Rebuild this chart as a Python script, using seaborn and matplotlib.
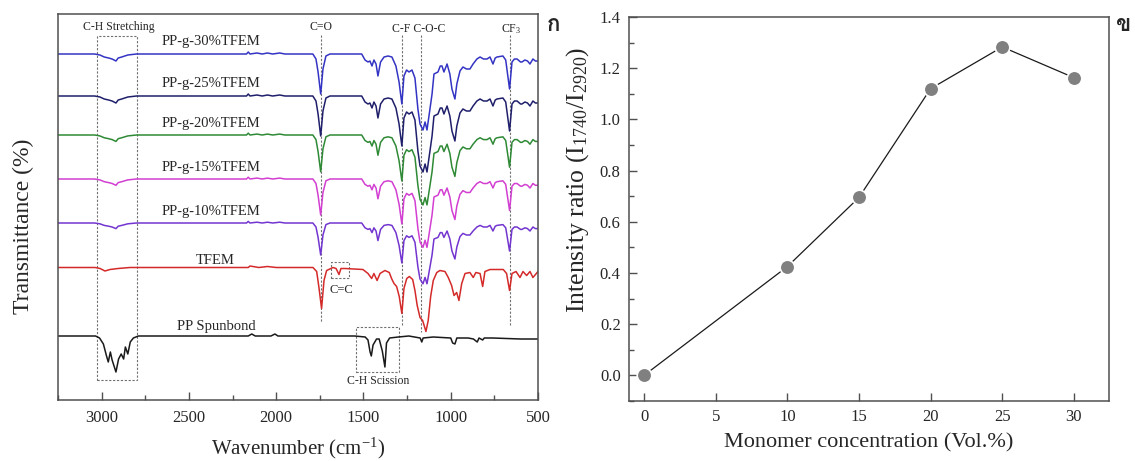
import numpy as np
import pandas as pd
import matplotlib
matplotlib.use("Agg")
import matplotlib.pyplot as plt
import seaborn as sns
from matplotlib.patches import Rectangle
from matplotlib.ticker import MultipleLocator, FormatStrFormatter
from matplotlib import font_manager

# ---------------- data ----------------
graft_labels = ["PP-g-30%TFEM", "PP-g-25%TFEM", "PP-g-20%TFEM", "PP-g-15%TFEM", "PP-g-10%TFEM"]
graft_colors = ["#3434c4", "#1f1f6b", "#2f8a36", "#d23fd2", "#7335d0"]
graft_baseline = [346, 304, 265, 221, 177]
graft_scale = [1.0, 1.0, 0.92, 0.9, 0.8]

# shared grafted-film profile: wavenumber and depth below baseline (a.u.)
graft_wn = [3250, 3040, 3010, 2985, 2960, 2940, 2918, 2905, 2885, 2850, 2800,
            2170, 2160, 2150, 2110, 2080, 2050, 2020, 1980, 1950,
            1790, 1772, 1760, 1745, 1732, 1715, 1692,
            1510, 1491, 1474, 1463, 1451, 1440, 1428, 1417, 1402, 1382, 1359, 1337,
            1314, 1296, 1280, 1268, 1253, 1239, 1222, 1205, 1188, 1176, 1159, 1147,
            1136, 1119, 1107, 1096, 1073, 1060, 1050, 1039, 1021, 1005, 993, 976,
            965, 947, 930, 910, 890, 872, 850, 832, 812, 792, 775, 758, 745, 735,
            701, 685, 663, 649, 635, 620, 600, 592, 575, 560, 546, 529, 515, 500]
graft_depth = [0, 0, 1, 3, 4, 5, 7, 4, 3, 1, 0,
               0, -2, 0, -1, 0, -1, 0, -1, 0,
               0, 5, 18, 40, 15, 2, 0,
               0, 6, 8, 7, 12, 6, 10, 22, 8, 3, 2, 3,
               12, 28, 50, 22, 16, 18, 16, 24, 55, 70, 76, 68,
               76, 55, 40, 20, 18, 12, 12, 18, 10, 20, 35, 45,
               30, 17, 13, 15, 15, 10, 5, 3, 5, 5, 3, 10, 4, 3,
               2, 6, 35, 8, 5, 5, 8, 8, 6, 7, 10, 5, 7, 7]

tfem_label = "TFEM"
tfem_color = "#d42a2a"
tfem_baseline = 132.5
tfem_wn = [3250, 3038, 3009, 2981, 2952, 2906, 2838,
           2160, 2150, 2100, 2050, 2000, 1960,
           1789, 1768, 1755, 1740, 1726, 1711, 1675, 1657, 1640, 1629, 1606,
           1503, 1474, 1453, 1440, 1422, 1405, 1377, 1352, 1339, 1325, 1310, 1295,
           1280, 1268, 1252, 1237, 1218, 1205, 1192, 1176, 1161, 1142, 1129, 1115,
           1100, 1080, 1062, 1033, 1014, 995, 981, 966, 953, 937, 918, 890, 871,
           856, 832, 817, 804, 775, 699, 680, 663, 649, 626, 603, 586, 565, 546,
           529, 500]
tfem_depth = [0, 0, 1, 3.5, 2, 1, 0,
              0, -1.5, 0, -1, 0, 0,
              0, 4, 20, 41, 13, 3, 0, 1, 7, 1, 1,
              2, 6, 11, 6, 13, 6, 3, 5, 11, 16, 19, 29,
              46, 21, 11, 9, 12, 23, 38, 50, 53, 64, 53, 29,
              13, 5, 3, 4, 10, 18, 28, 25, 33, 16, 6, 5, 10,
              5, 6, 19, 4, 2, 2, 6, 23, 6, 4, 10, 4, 8, 4,
              10, 4]

pp_label = "PP Spunbond"
pp_color = "#1a1a1a"
pp_baseline = 64
pp_wn = [3250, 3035, 3012, 2990, 2972, 2962, 2950, 2940, 2918, 2903, 2888, 2874,
         2864, 2850, 2836, 2818, 2790,
         2160, 2140, 2120, 2030, 2007, 1990,
         1550, 1490, 1474, 1462, 1455, 1445, 1425, 1410, 1392, 1377, 1368, 1350,
         1300, 1240, 1175, 1166, 1158, 1100, 1000, 989, 976, 965, 900, 870, 848,
         838, 817, 808, 760, 600, 500]
pp_depth = [0, 0, 2, 8, 20, 26, 16, 24, 36, 23, 18, 23,
            11, 18, 6, 2, 0,
            0, -2, 0, 0, -2, 0,
            0, 1, 4, 16, 20, 9, 3, 3, 15, 31, 7, 2,
            1, 0, 2, 6, 2, 1, 2, 7, 8, 2, 2, 3, 6,
            2, 4, 2, 2, 3, 3]

band_names = ["C=O", "C-F", "C-O-C", "CF3"]
band_wn = [1745, 1280, 1168, 663]

conc = [0, 10, 15, 20, 25, 30]
ratio = [0.0, 0.425, 0.695, 1.12, 1.283, 1.163]

# ---------------- style ----------------
sns.set_style("white")
plt.rcParams["font.family"] = ["Liberation Serif", "DejaVu Serif"]
plt.rcParams["mathtext.fontset"] = "custom"
plt.rcParams["mathtext.rm"] = "Liberation Serif"
plt.rcParams["mathtext.it"] = "Liberation Serif:italic"
plt.rcParams["axes.unicode_minus"] = True


def find_font(ch):
    try:
        from fontTools.ttLib import TTFont
    except Exception:
        return None
    for f in font_manager.fontManager.ttflist:
        try:
            tt = TTFont(f.fname, fontNumber=0, lazy=True)
            cmap = tt.getBestCmap()
            if cmap and ord(ch) in cmap:
                return f.name
        except Exception:
            continue
    return None


thai_font = find_font("\u0e01")
thai_family = [thai_font, "DejaVu Sans"] if thai_font else ["DejaVu Sans"]

W, H = 1135, 461
fig = plt.figure(figsize=(W / 100, H / 100), dpi=100)
ax1 = fig.add_axes([58 / W, 1 - 400 / H, 480 / W, 386 / H])
ax2 = fig.add_axes([629 / W, 1 - 401 / H, 480 / W, 384 / H])

spine_c = "#505050"

# ---------------- left: FTIR spectra ----------------
gw = np.array(graft_wn, dtype=float)
gd = np.array(graft_depth, dtype=float)
for lab, col, base, sc in zip(graft_labels, graft_colors, graft_baseline, graft_scale):
    sns.lineplot(x=gw, y=base - sc * gd, ax=ax1, color=col, lw=1.1, estimator=None)
    ax1.text(2373, base + 12, lab, ha="center", va="center", fontsize=10.5)

sns.lineplot(x=np.array(tfem_wn, float), y=tfem_baseline - np.array(tfem_depth, float),
             ax=ax1, color=tfem_color, lw=1.1, estimator=None)
ax1.text(2351, tfem_baseline + 7, tfem_label, ha="center", va="center", fontsize=10.5)

sns.lineplot(x=np.array(pp_wn, float), y=pp_baseline - np.array(pp_depth, float),
             ax=ax1, color=pp_color, lw=1.1, estimator=None)
ax1.text(2341, pp_baseline + 10, pp_label, ha="center", va="center", fontsize=10.5)

# band guide lines
line_bottoms = [78, 75, 68, 75]
for wn, yb in zip(band_wn, line_bottoms):
    ax1.plot([wn, wn], [365, yb], ls=(0, (2, 1.5)), color="#707070", lw=0.8, zorder=0.5)
ax1.text(1746, 373, "C=O", ha="center", va="center", fontsize=8.5)
ax1.text(1183, 370.5, "C-F C-O-C", ha="center", va="center", fontsize=8.5)
ax1.text(655, 370.5, "CF$_3$", ha="center", va="center", fontsize=8.5)
ax1.text(2902, 373, "C-H Stretching", ha="center", va="center", fontsize=8.5)

box_kw = dict(fill=False, ls=(0, (2, 1.5)), ec="#707070", lw=0.8)
ax1.add_patch(Rectangle((3028, 20), 2796 - 3028, 364 - 20, **box_kw))
ax1.add_patch(Rectangle((1688, 122), 1581 - 1688, 138 - 122, **box_kw))
ax1.add_patch(Rectangle((1543, 28), 1295 - 1543, 73 - 28, **box_kw))
ax1.text(1629, 110, "C=C", ha="center", va="center", fontsize=9)
ax1.text(1418, 19, "C-H Scission", ha="center", va="center", fontsize=8.5)

ax1.set_xlim(3250, 500)
ax1.set_ylim(0, 386)
ax1.set_yticks([])
ax1.xaxis.set_major_locator(MultipleLocator(500))
ax1.xaxis.set_minor_locator(MultipleLocator(250))
ax1.tick_params(axis="x", which="major", direction="in", length=6, width=1,
                color=spine_c, labelsize=12, pad=7, bottom=True, top=False)
ax1.tick_params(axis="x", which="minor", direction="in", length=3.5, width=1,
                color=spine_c, bottom=True, top=False)
ax1.set_xlabel("Wavenumber (cm$^{-1}$)", fontsize=15, labelpad=7)
ax1.set_ylabel("Transmittance (%)", fontsize=17)
ax1.yaxis.set_label_coords(-0.05, 0.45)

# ---------------- right: intensity ratio ----------------
sns.lineplot(x=conc, y=ratio, ax=ax2, color="#1a1a1a", lw=0.9, marker="o",
             markersize=10.5, markerfacecolor="#808080", markeredgecolor="white",
             markeredgewidth=1.2, estimator=None)
ax2.set_xlim(-1.05, 32.45)
ax2.set_ylim(-0.1, 1.4)
ax2.xaxis.set_major_locator(MultipleLocator(5))
ax2.yaxis.set_major_locator(MultipleLocator(0.2))
ax2.yaxis.set_minor_locator(MultipleLocator(0.1))
ax2.yaxis.set_major_formatter(FormatStrFormatter("%.1f"))
ax2.tick_params(which="major", direction="in", length=6, width=1, color=spine_c,
                labelsize=12, pad=6, left=True, bottom=True, top=False, right=False)
ax2.tick_params(which="minor", direction="in", length=3.5, width=1, color=spine_c,
                left=True, bottom=False, top=False, right=False)
ax2.set_xlabel("Monomer concentration (Vol.%)", fontsize=16, labelpad=6)
ax2.set_ylabel("Intensity ratio (I$_{1740}$/I$_{2920}$)", fontsize=18.5)
ax2.yaxis.set_label_coords(-0.08, 0.575)

for ax in (ax1, ax2):
    for s in ax.spines.values():
        s.set_visible(True)
        s.set_color(spine_c)
        s.set_linewidth(1.1)

fig.text(553 / W, 1 - 25 / H, "\u0e01", family=thai_family, fontsize=16,
         fontweight="bold", ha="center", va="center")
fig.text(1124 / W, 1 - 25 / H, "\u0e02", family=thai_family, fontsize=16,
         fontweight="bold", ha="center", va="center")

fig.savefig("out.png", dpi=100)
